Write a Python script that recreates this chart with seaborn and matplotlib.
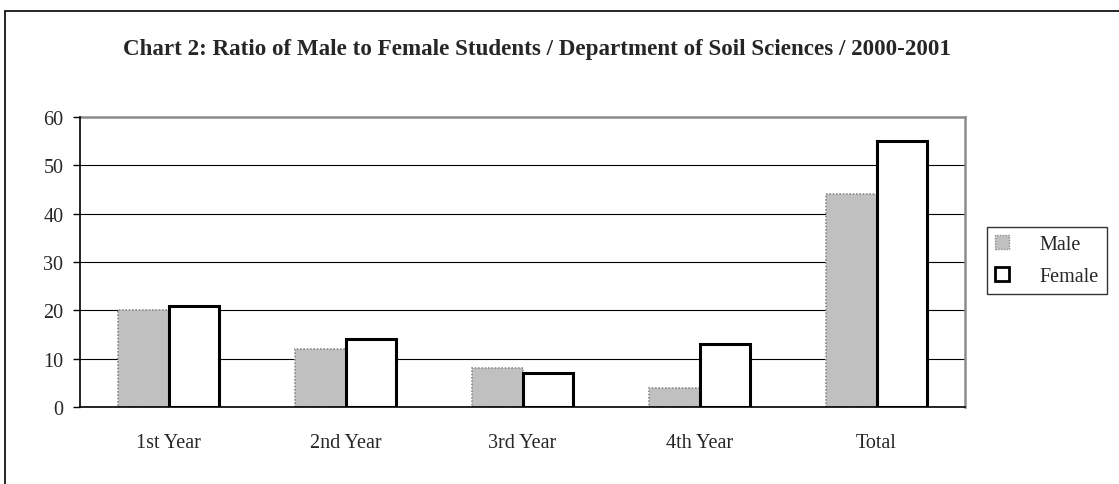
import matplotlib
matplotlib.use("Agg")
import matplotlib.pyplot as plt
import seaborn as sns
import pandas as pd
from matplotlib.patches import Rectangle, Patch

categories = ["1st Year", "2nd Year", "3rd Year", "4th Year", "Total"]
male = [20, 12, 8, 4, 44]
female = [21, 14, 7, 13, 55]
series = ["Male", "Female"]
yticks = [0, 10, 20, 30, 40, 50, 60]
title = "Chart 2: Ratio of Male to Female Students / Department of Soil Sciences / 2000-2001"

df = pd.DataFrame({
    "cat": categories * 2,
    "val": male + female,
    "sex": ["Male"] * len(categories) + ["Female"] * len(categories),
})

sns.set_theme(style="white")
plt.rcParams["font.family"] = ["Liberation Serif", "DejaVu Serif"]

W, H = 1119, 485
fig = plt.figure(figsize=(W / 100, H / 100), dpi=100)
ax = fig.add_axes([80 / W, (H - 408) / H, (965 - 80) / W, (408 - 118) / H])

sns.barplot(data=df, x="cat", y="val", hue="sex", order=categories, hue_order=series,
            palette={"Male": "#C0C0C0", "Female": "white"}, width=0.57, gap=0,
            legend=False, ax=ax, zorder=3)

n = len(categories)
for i, p in enumerate(ax.patches[:2 * n]):
    if i < n:
        p.set_edgecolor("#8C8C8C")
        p.set_linestyle((0, (1, 1)))
        p.set_linewidth(1.2)
    else:
        p.set_edgecolor("black")
        p.set_linewidth(2.2)

fs = 14.5
ax.set_xlim(-0.5, n - 0.5)
ax.set_ylim(0, 60)
ax.set_yticks(yticks)
ax.set_yticklabels([str(t) for t in yticks], fontsize=fs)
ax.set_xticks(range(n))
ax.set_xticklabels(categories, fontsize=fs)
ax.set_xticks([i - 0.5 for i in range(n + 1)], minor=True)
ax.tick_params(axis="x", which="major", length=0, pad=19)
ax.tick_params(axis="x", which="minor", length=5, width=1, color="black", direction="out")
ax.tick_params(axis="y", length=5, width=1, color="black", direction="out", pad=7, left=True)
ax.set_xlabel("")
ax.set_ylabel("")
ax.yaxis.grid(True, color="black", linewidth=0.8)
ax.set_axisbelow(True)
for s in ["left", "bottom"]:
    ax.spines[s].set_color("black")
    ax.spines[s].set_linewidth(1.2)
    ax.spines[s].set_zorder(5)
for s in ["top", "right"]:
    ax.spines[s].set_color("#8C8C8C")
    ax.spines[s].set_linewidth(1.8)

fig.text(537 / W, 1 - 50 / H, title, ha="center", va="center", fontsize=16.6, fontweight="bold")

handles = [
    Patch(facecolor="#C0C0C0", edgecolor="#8C8C8C", linestyle=(0, (1, 1)), linewidth=1.0),
    Patch(facecolor="white", edgecolor="black", linewidth=2.0),
]
leg = fig.legend(handles, series, loc="center", bbox_to_anchor=(1047 / W, 1 - 261.5 / H),
                 frameon=True, fancybox=False, shadow=False, fontsize=fs,
                 handlelength=0.7, handleheight=0.7, handletextpad=1.5,
                 borderpad=0.4, labelspacing=0.6, borderaxespad=0)
leg.get_frame().set_edgecolor("black")
leg.get_frame().set_linewidth(1.0)

fig.patches.append(Rectangle((4.5 / W, -0.1), 2.0, (H - 12) / H + 0.1, transform=fig.transFigure,
                             fill=False, edgecolor="black", linewidth=1.2))

fig.savefig("out.png", dpi=100)
